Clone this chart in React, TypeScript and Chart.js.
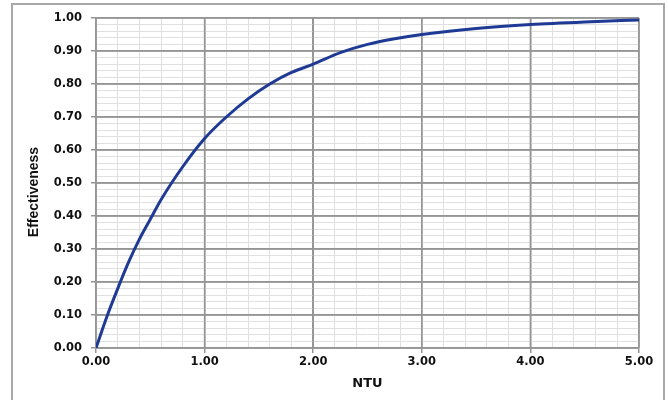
import React, { useEffect, useRef } from "react";
import { Chart, registerables } from "chart.js";

Chart.register(...registerables);

const ntuValues = [0, 0.1, 0.2, 0.3, 0.4, 0.5, 0.6, 0.8, 1.0, 1.2, 1.4, 1.6, 1.8, 2.0, 2.25, 2.5, 2.75, 3.0, 3.5, 4.0, 4.5, 5.0];
const effectiveness = [0, 0.095, 0.18, 0.26, 0.33, 0.39, 0.45, 0.55, 0.635, 0.70, 0.755, 0.80, 0.835, 0.86, 0.895, 0.92, 0.937, 0.95, 0.968, 0.98, 0.988, 0.994];
const xTitle = "NTU";
const yTitle = "Effectiveness";

const MAJOR = "#959595";
const MINOR = "#e0e0e0";
const TICK_FONT = { family: "'DejaVu Sans', Verdana, sans-serif", size: 11.5, weight: "bold" as const };

const isMajorX = (v: number) => Math.abs(v - Math.round(v)) < 1e-6;
const isMajorY = (v: number) => Math.round(v * 100) % 10 === 0;

const yTitlePlugin = {
  id: "yTitle",
  afterDraw(chart: any) {
    const { ctx } = chart;
    ctx.save();
    ctx.translate(34, 192);
    ctx.rotate(-Math.PI / 2);
    ctx.font = "bold 14px 'Liberation Sans Narrow', 'Arial Narrow', sans-serif";
    ctx.fillStyle = "#111";
    ctx.textAlign = "center";
    ctx.textBaseline = "middle";
    ctx.fillText(yTitle, 0, 0);
    ctx.restore();
  },
};

const majorGridPlugin = {
  id: "majorGrid",
  beforeDatasetsDraw(chart: any) {
    const { ctx, chartArea, scales } = chart;
    ctx.save();
    ctx.strokeStyle = MAJOR;
    ctx.lineWidth = 1.5;
    ctx.beginPath();
    scales.x.ticks.forEach((t: any) => {
      if (!isMajorX(t.value)) return;
      const px = scales.x.getPixelForValue(t.value);
      ctx.moveTo(px, chartArea.top);
      ctx.lineTo(px, chartArea.bottom);
    });
    scales.y.ticks.forEach((t: any) => {
      if (!isMajorY(t.value)) return;
      const py = scales.y.getPixelForValue(t.value);
      ctx.moveTo(chartArea.left, py);
      ctx.lineTo(chartArea.right, py);
    });
    ctx.stroke();
    ctx.restore();
  },
};

export default function App() {
  const ref = useRef<HTMLCanvasElement>(null);
  useEffect(() => {
    if (!ref.current) return;
    const chart = new Chart(ref.current, {
      type: "line",
      data: {
        datasets: [
          {
            data: ntuValues.map((x, i) => ({ x, y: effectiveness[i] })),
            borderColor: "#1e3a94",
            borderWidth: 3,
            pointRadius: 0,
            tension: 0.4,
            cubicInterpolationMode: "monotone",
            fill: false,
          },
        ],
      },
      options: {
        animation: false,
        responsive: false,
        maintainAspectRatio: false,
        layout: { padding: { left: 0, top: 18, right: 29, bottom: 0 } },
        plugins: { legend: { display: false }, tooltip: { enabled: false } },
        scales: {
          x: {
            type: "linear",
            min: 0,
            max: 5,
            afterFit: (s: any) => { s.height = 52; },
            border: { color: MAJOR, width: 1.5 },
            grid: {
              color: (c: any) => (isMajorX(c.tick.value) ? MAJOR : MINOR),
              lineWidth: (c: any) => (isMajorX(c.tick.value) ? 1.5 : 1),
              tickColor: (c: any) => (isMajorX(c.tick.value) ? MAJOR : "rgba(0,0,0,0)"),
              tickLength: 5,
            },
            ticks: {
              stepSize: 0.2,
              maxTicksLimit: 1000,
              autoSkip: false,
              maxRotation: 0,
              padding: 2,
              color: "#111",
              font: TICK_FONT,
              callback: (v: any) => (isMajorX(Number(v)) ? Number(v).toFixed(2) : ""),
            },
            title: {
              display: true,
              text: xTitle,
              color: "#111",
              font: { family: "'DejaVu Sans', Verdana, sans-serif", size: 13, weight: "bold" },
              padding: { top: 0, bottom: 9 },
            },
          },
          y: {
            type: "linear",
            min: 0,
            max: 1,
            afterFit: (s: any) => { s.width = 96; },
            border: { color: MAJOR, width: 1.5 },
            grid: {
              color: (c: any) => (isMajorY(c.tick.value) ? MAJOR : MINOR),
              lineWidth: (c: any) => (isMajorY(c.tick.value) ? 1.5 : 1),
              tickColor: (c: any) => (isMajorY(c.tick.value) ? MAJOR : "rgba(0,0,0,0)"),
              tickLength: 5,
            },
            ticks: {
              stepSize: 0.02,
              maxTicksLimit: 1000,
              autoSkip: false,
              padding: 9,
              color: "#111",
              font: TICK_FONT,
              callback: (v: any) => (isMajorY(Number(v)) ? Number(v).toFixed(2) : ""),
            },
          },
        },
      },
      plugins: [majorGridPlugin, yTitlePlugin],
    } as any);
    return () => chart.destroy();
  }, []);

  return (
    <div style={{ position: "fixed", left: 0, top: 0, width: 668, height: 400, background: "#fff" }}>
      <div
        style={{
          position: "absolute",
          left: 11,
          top: 3,
          width: 654,
          height: 410,
          border: "2px solid #a8a8a8",
          boxSizing: "border-box",
        }}
      />
      <canvas ref={ref} width={668} height={400} style={{ position: "absolute", left: 0, top: 0 }} />
    </div>
  );
}
